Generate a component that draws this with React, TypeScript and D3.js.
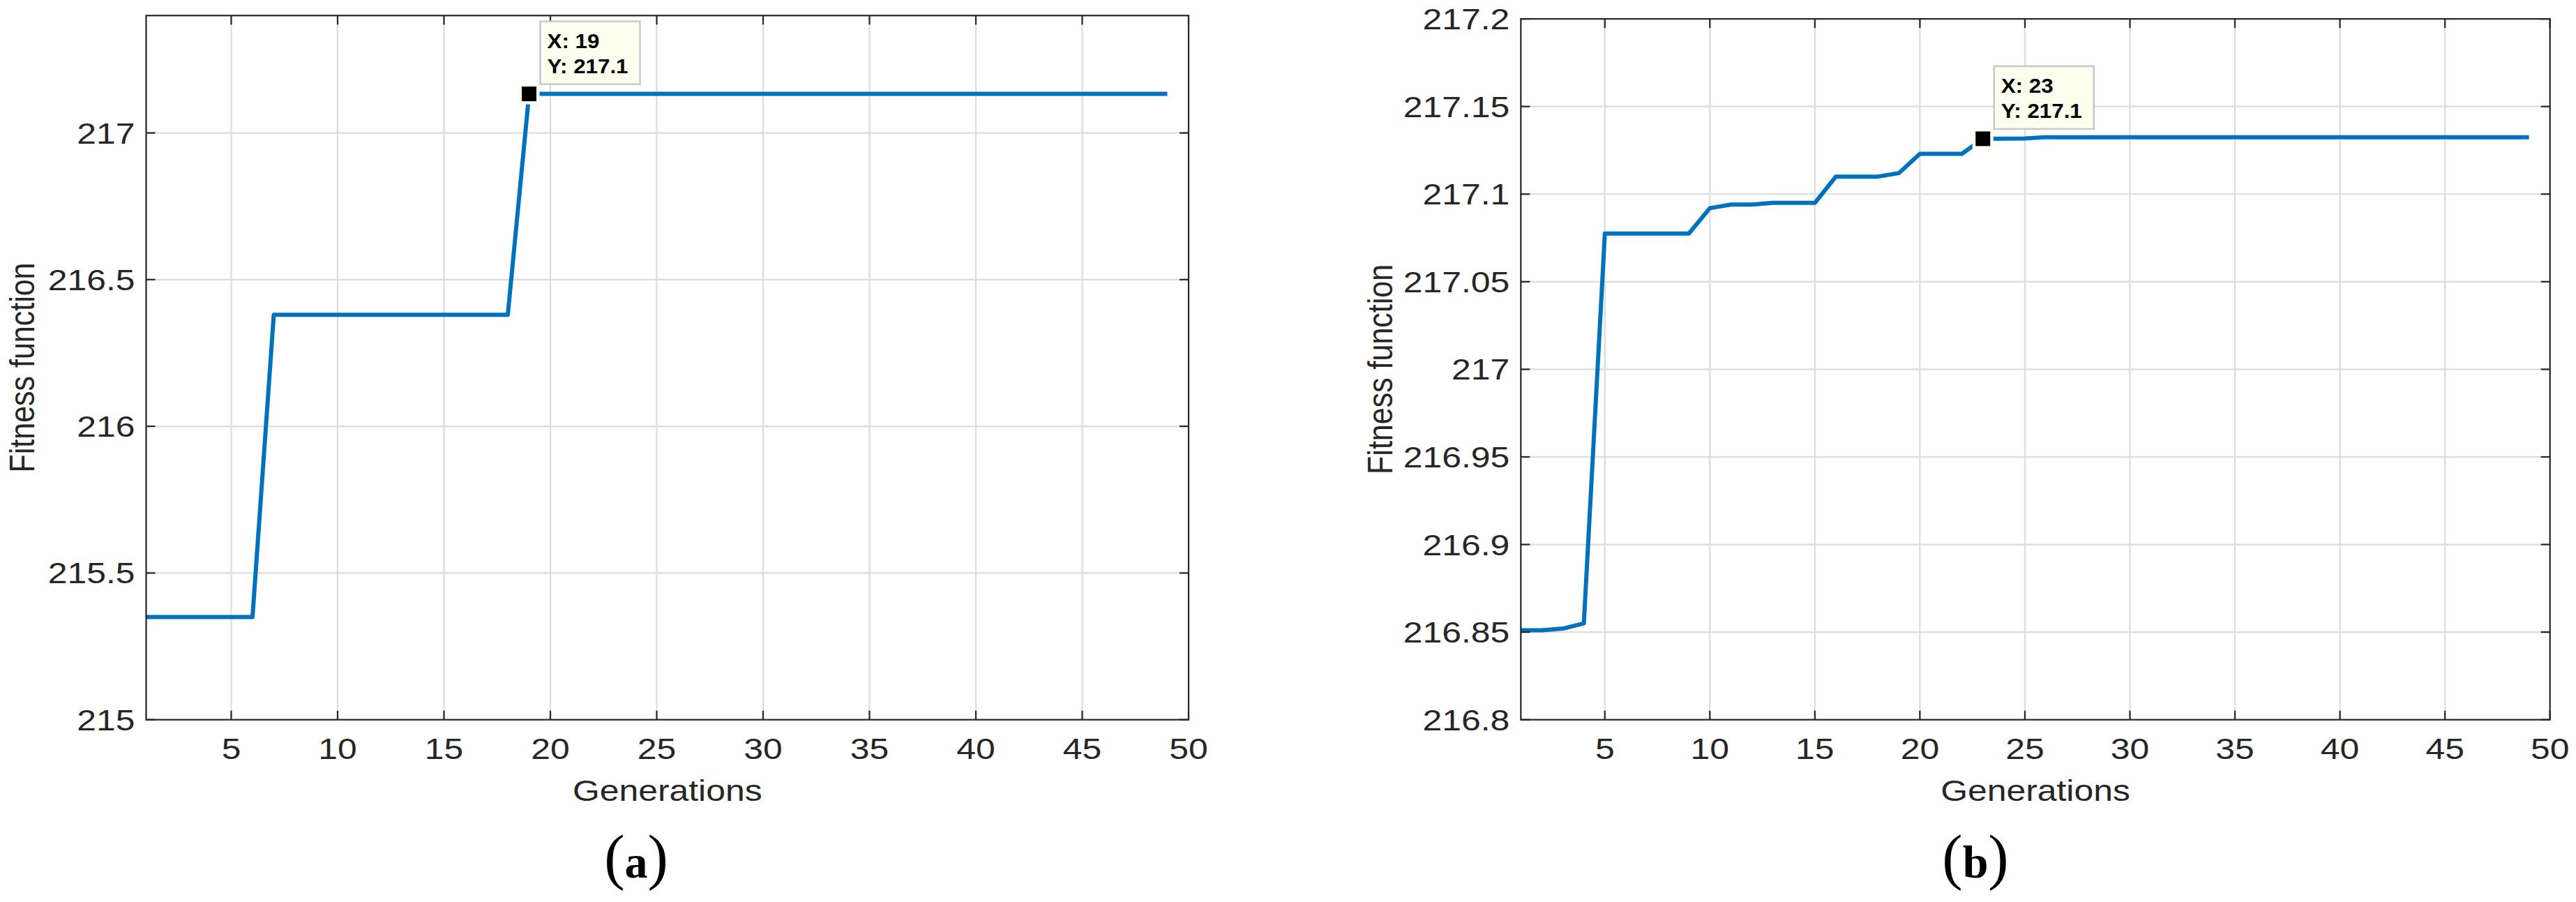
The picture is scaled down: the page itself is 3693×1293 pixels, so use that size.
import React from "react";
import * as d3 from "d3";

// ---------- data ----------
const generations: number[] = [
  1, 2, 3, 4, 5, 6, 7, 8, 9, 10, 11, 12, 13, 14, 15, 16, 17, 18, 19, 20, 21, 22, 23, 24, 25,
  26, 27, 28, 29, 30, 31, 32, 33, 34, 35, 36, 37, 38, 39, 40, 41, 42, 43, 44, 45, 46, 47, 48, 49,
];

const fitnessA: number[] = [
  215.35, 215.35, 215.35, 215.35, 215.35, 215.35,
  216.38, 216.38, 216.38, 216.38, 216.38, 216.38, 216.38, 216.38, 216.38, 216.38, 216.38, 216.38,
  217.133, 217.133, 217.133, 217.133, 217.133, 217.133, 217.133, 217.133, 217.133, 217.133,
  217.133, 217.133, 217.133, 217.133, 217.133, 217.133, 217.133, 217.133, 217.133, 217.133,
  217.133, 217.133, 217.133, 217.133, 217.133, 217.133, 217.133, 217.133, 217.133, 217.133, 217.133,
];

const fitnessB: number[] = [
  216.851, 216.851, 216.852, 216.855, 217.0775, 217.0775, 217.0775, 217.0775, 217.0775,
  217.092, 217.094, 217.094, 217.095, 217.095, 217.095, 217.11, 217.11, 217.11, 217.112,
  217.123, 217.123, 217.123, 217.1316, 217.1317, 217.1318,
  217.1325, 217.1325, 217.1325, 217.1325, 217.1325, 217.1325, 217.1325, 217.1325, 217.1325,
  217.1325, 217.1325, 217.1325, 217.1325, 217.1325, 217.1325, 217.1325, 217.1325, 217.1325,
  217.1325, 217.1325, 217.1325, 217.1325, 217.1325, 217.1325,
];

const xTicks: number[] = [5, 10, 15, 20, 25, 30, 35, 40, 45, 50];
const yTicksA: number[] = [215, 215.5, 216, 216.5, 217];
const yTicksB: number[] = [216.8, 216.85, 216.9, 216.95, 217, 217.05, 217.1, 217.15, 217.2];

const xDomain: [number, number] = [1, 50];
const yDomainA: [number, number] = [215, 217.4];
const yDomainB: [number, number] = [216.8, 217.2];

const tipA = { gen: 19, label: ["X: 19", "Y: 217.1"] };
const tipB = { gen: 23, label: ["X: 23", "Y: 217.1"] };

const xLabel = "Generations";
const yLabel = "Fitness function";

// ---------- style ----------
const W = 3693;
const H = 1293;
const SX = 1.16;
const FS = 43;
const AX = "#262626";
const GRID = "#dcdcdc";
const LINE = "#0072BD";
const SANS = "'Liberation Sans', Arial, Helvetica, sans-serif";
const SERIF = "'Liberation Serif', 'Times New Roman', serif";

type PanelProps = {
  x0: number;
  x1: number;
  yTop: number;
  yBot: number;
  yDomain: [number, number];
  yTicks: number[];
  values: number[];
  tip: { gen: number; label: string[] };
  yLabelX: number;
  caption: string;
  captionX: number;
};

function STxt(props: {
  x: number;
  y: number;
  anchor?: string;
  size?: number;
  weight?: string;
  rotate?: number;
  sx?: number;
  fill?: string;
  children: React.ReactNode;
}) {
  const { x, y, anchor = "middle", size = FS, weight = "normal", rotate = 0, sx = SX, fill = AX } = props;
  return (
    <g transform={`translate(${x},${y}) scale(${sx},1) rotate(${rotate})`}>
      <text
        x={0}
        y={0}
        textAnchor={anchor as any}
        fontFamily={SANS}
        fontSize={size}
        fontWeight={weight}
        fill={fill}
      >
        {props.children}
      </text>
    </g>
  );
}

function Panel(p: PanelProps) {
  const x = d3.scaleLinear().domain(xDomain).range([p.x0, p.x1]);
  const y = d3.scaleLinear().domain(p.yDomain).range([p.yBot, p.yTop]);
  const line = d3
    .line<number>()
    .x((_, i) => x(generations[i]))
    .y((d) => y(d));
  const fmt = (v: number) => String(+v.toFixed(3));
  const tickLen = 13;
  const tipIdx = generations.indexOf(p.tip.gen);
  const mx = x(p.tip.gen);
  const my = y(p.values[tipIdx]);
  const bx = mx + 16;
  const by = my - 104;
  const cx = (p.x0 + p.x1) / 2;
  const cy = (p.yTop + p.yBot) / 2;

  return (
    <g>
      {/* grid */}
      {xTicks
        .filter((t) => t > xDomain[0] && t < xDomain[1])
        .map((t) => (
          <line key={"gx" + t} x1={x(t)} x2={x(t)} y1={p.yTop} y2={p.yBot} stroke={GRID} strokeWidth={2.2} />
        ))}
      {p.yTicks
        .filter((t) => t > p.yDomain[0] && t < p.yDomain[1])
        .map((t) => (
          <line key={"gy" + t} x1={p.x0} x2={p.x1} y1={y(t)} y2={y(t)} stroke={GRID} strokeWidth={2.2} />
        ))}
      {/* series */}
      <path d={line(p.values) || ""} fill="none" stroke={LINE} strokeWidth={6} strokeLinejoin="round" />
      {/* box */}
      <rect x={p.x0} y={p.yTop} width={p.x1 - p.x0} height={p.yBot - p.yTop} fill="none" stroke={AX} strokeWidth={2.2} />
      {/* ticks */}
      {xTicks.map((t) => (
        <g key={"tx" + t}>
          <line x1={x(t)} x2={x(t)} y1={p.yBot} y2={p.yBot - tickLen} stroke={AX} strokeWidth={2.2} />
          <line x1={x(t)} x2={x(t)} y1={p.yTop} y2={p.yTop + tickLen} stroke={AX} strokeWidth={2.2} />
          <STxt x={x(t)} y={p.yBot + 56.5}>{String(t)}</STxt>
        </g>
      ))}
      {p.yTicks.map((t) => (
        <g key={"ty" + t}>
          <line x1={p.x0} x2={p.x0 + tickLen} y1={y(t)} y2={y(t)} stroke={AX} strokeWidth={2.2} />
          <line x1={p.x1} x2={p.x1 - tickLen} y1={y(t)} y2={y(t)} stroke={AX} strokeWidth={2.2} />
          <STxt x={p.x0 - 16} y={y(t) + 15} anchor="end">
            {fmt(t)}
          </STxt>
        </g>
      ))}
      {/* axis labels */}
      <STxt x={cx} y={1148}>{xLabel}</STxt>
      <STxt x={p.yLabelX} y={cy} rotate={-90}>
        {yLabel}
      </STxt>
      {/* data tip */}
      <rect x={mx - 15} y={my - 15} width={30} height={30} fill="#fffff0" />
      <rect x={mx - 10.5} y={my - 10.5} width={21} height={21} fill="#000" />
      <rect x={bx} y={by} width={143} height={90} fill="#fdffee" stroke="#c8c8c8" strokeWidth={2.5} />
      <STxt x={bx + 10} y={by + 38} anchor="start" size={29} weight="bold" sx={1.08} fill="#000">
        {p.tip.label[0]}
      </STxt>
      <STxt x={bx + 10} y={by + 74} anchor="start" size={29} weight="bold" sx={1.08} fill="#000">
        {p.tip.label[1]}
      </STxt>
      {/* caption */}
      <text x={p.captionX} y={1258} textAnchor="middle" fontFamily={SERIF} fill="#000">
        <tspan fontSize={88} fontWeight="normal">(</tspan>
        <tspan fontSize={66} fontWeight="bold">
          {p.caption}
        </tspan>
        <tspan fontSize={88} fontWeight="normal">)</tspan>
      </text>
    </g>
  );
}

export default function App() {
  return (
    <svg
      width={W}
      height={H}
      viewBox={`0 0 ${W} ${H}`}
      style={{ position: "absolute", left: 0, top: 0, display: "block", background: "#fff" }}
    >
      <rect x={0} y={0} width={W} height={H} fill="#fff" />
      <Panel
        x0={209.5}
        x1={1704}
        yTop={22.3}
        yBot={1031.7}
        yDomain={yDomainA}
        yTicks={yTicksA}
        values={fitnessA}
        tip={tipA}
        yLabelX={49}
        caption="a"
        captionX={912}
      />
      <Panel
        x0={2180.3}
        x1={3655.7}
        yTop={27.1}
        yBot={1031.7}
        yDomain={yDomainB}
        yTicks={yTicksB}
        values={fitnessB}
        tip={tipB}
        yLabelX={1996}
        caption="b"
        captionX={2832}
      />
    </svg>
  );
}
